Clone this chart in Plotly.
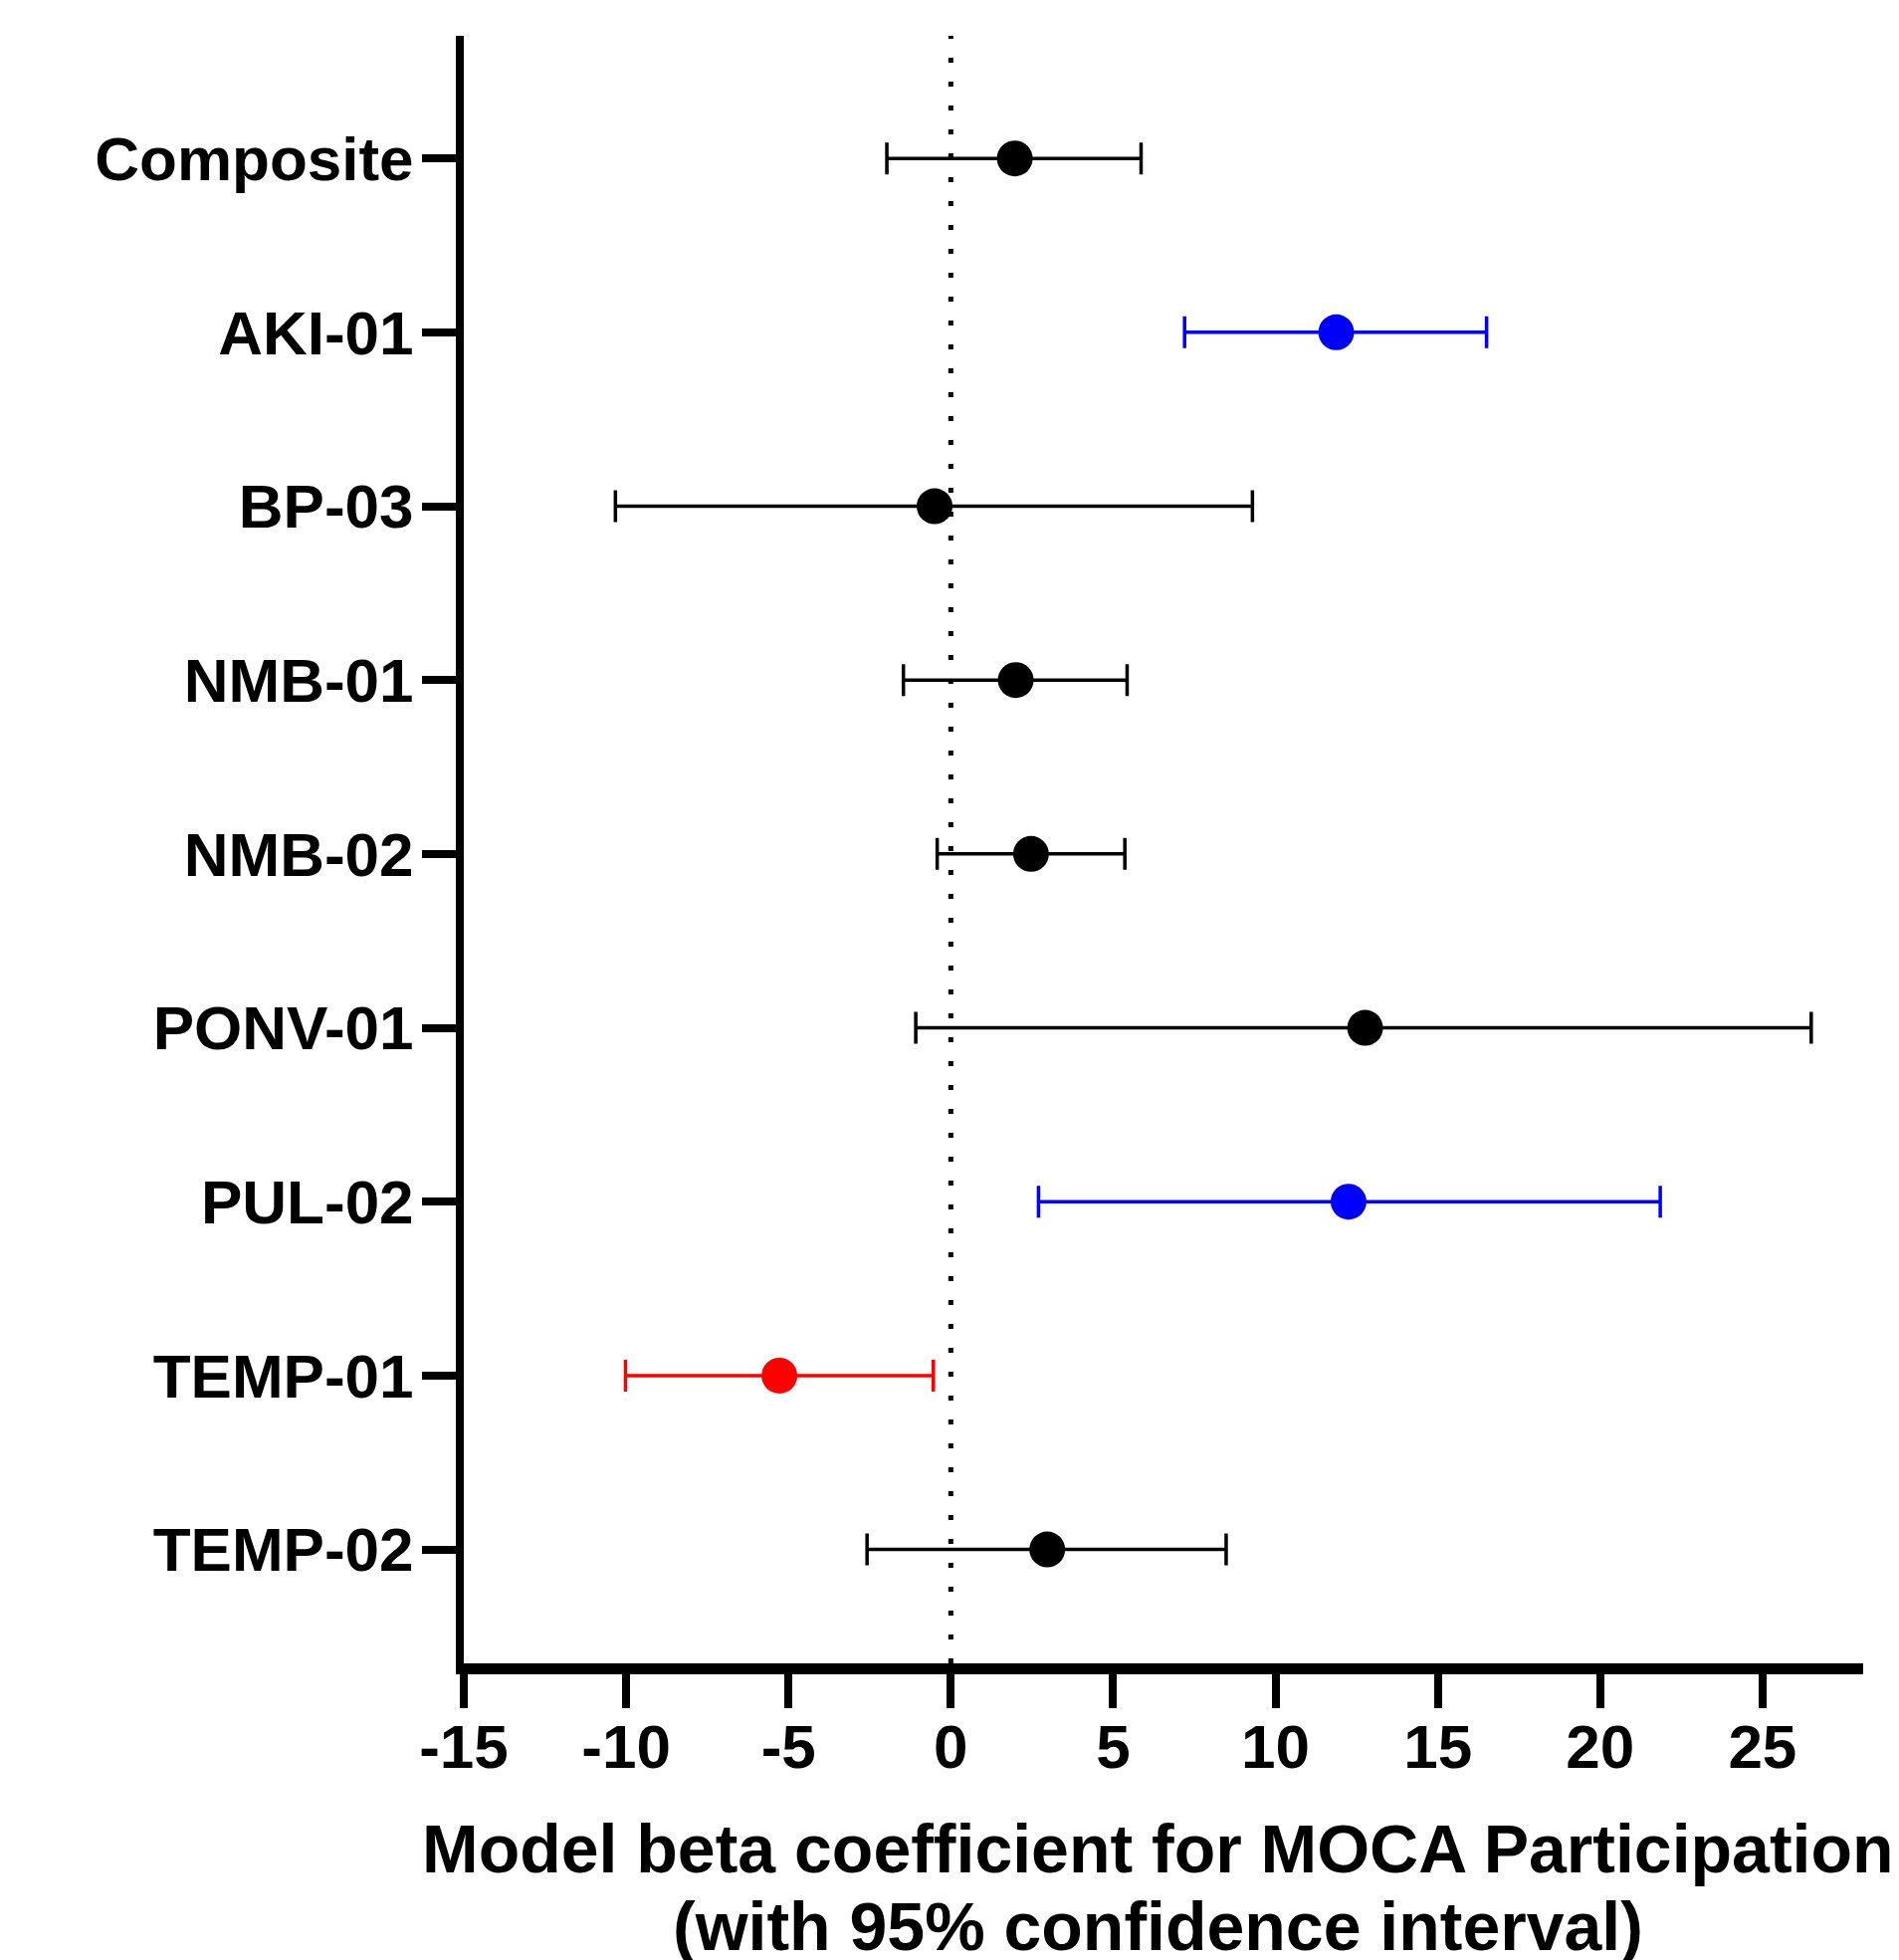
import plotly.graph_objects as go

categories = ["Composite", "AKI-01", "BP-03", "NMB-01", "NMB-02", "PONV-01", "PUL-02", "TEMP-01", "TEMP-02"]
beta = [1.97, 11.87, -0.5, 2.0, 2.47, 12.76, 12.25, -5.28, 2.97]
ci_low = [-1.97, 7.2, -10.33, -1.46, -0.42, -1.08, 2.7, -10.02, -2.58]
ci_high = [5.86, 16.5, 9.29, 5.43, 5.36, 26.5, 21.85, -0.54, 8.48]
groups = ["ns", "pos", "ns", "ns", "ns", "ns", "pos", "neg", "ns"]
group_colors = {"ns": "#000000", "pos": "#0000FF", "neg": "#FF0000"}
x_ticks = [-15, -10, -5, 0, 5, 10, 15, 20, 25]
title_lines = ["Model beta coefficient for MOCA Participation", "(with 95% confidence interval)"]

FONT = "Liberation Sans, Arial, sans-serif"

fig = go.Figure()
for g, col in group_colors.items():
    idx = [i for i, gg in enumerate(groups) if gg == g]
    xs = [beta[i] for i in idx]
    ys = [categories[i] for i in idx]
    plus = [ci_high[i] - beta[i] for i in idx]
    minus = [beta[i] - ci_low[i] for i in idx]
    fig.add_trace(go.Scatter(
        x=xs, y=ys, mode="markers",
        marker=dict(color=col, size=36, line=dict(width=0)),
        error_x=dict(type="data", symmetric=False, array=plus, arrayminus=minus,
                     color=col, thickness=3.5, width=16),
        showlegend=False,
    ))

fig.add_shape(type="line", x0=0, x1=0, y0=0, y1=1, xref="x", yref="paper",
              line=dict(color="black", width=5, dash="5px,19px"), layer="below")

for txt, yp in zip(title_lines, [-0.1138, -0.1615]):
    fig.add_annotation(text=txt, xref="paper", yref="paper", x=0.496, y=yp,
                       xanchor="center", yanchor="middle", showarrow=False,
                       font=dict(family=FONT, size=68, color="black", weight="bold"))

fig.update_layout(
    width=1908, height=1969,
    margin=dict(l=458, r=44, t=28, b=306),
    plot_bgcolor="white", paper_bgcolor="white",
    font=dict(family=FONT, color="black"),
)
fig.update_xaxes(
    automargin=False,
    range=[-15, 28.1], tickvals=x_ticks, ticktext=[str(v) for v in x_ticks],
    showgrid=False, zeroline=False,
    showline=True, linecolor="black", linewidth=11,
    ticks="outside", ticklen=34, tickwidth=8, tickcolor="black",
    ticklabelstandoff=-14,
    tickfont=dict(family=FONT, size=62, color="black", weight="bold"),
)
fig.update_yaxes(
    automargin=False,
    type="category", categoryorder="array", categoryarray=categories,
    range=[8.655, -0.705],
    showgrid=False, zeroline=False,
    showline=True, linecolor="black", linewidth=8,
    ticks="outside", ticklen=34, tickwidth=8, tickcolor="black",
    ticklabelstandoff=-4,
    tickfont=dict(family=FONT, size=62, color="black", weight="bold"),
)

fig.write_html("out.html")
